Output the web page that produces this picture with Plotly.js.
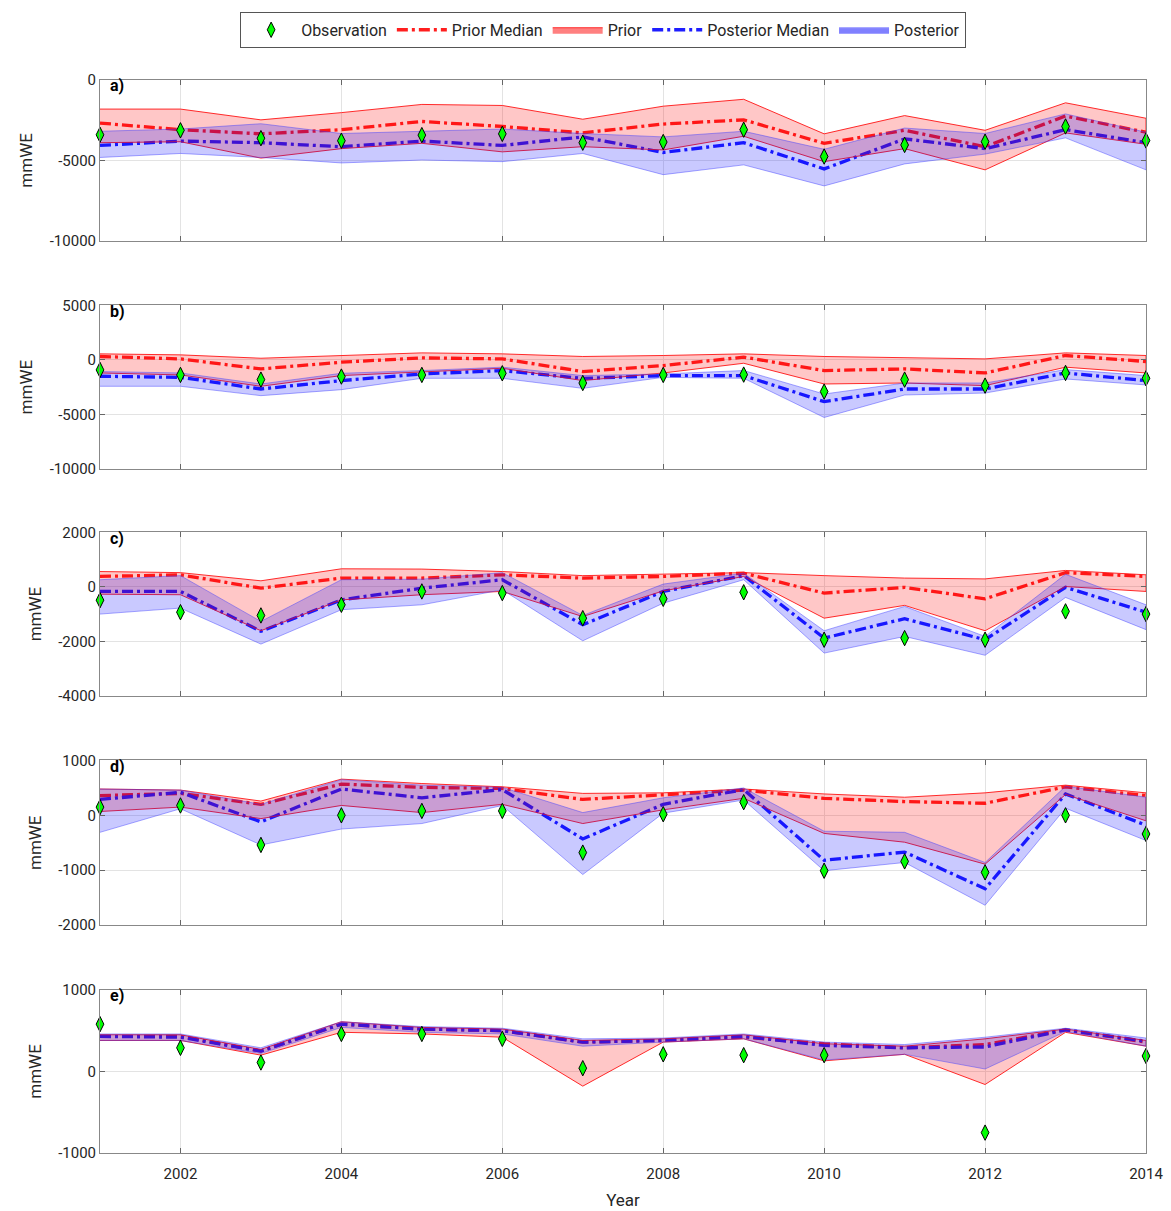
<!DOCTYPE html>
<html>
<head>
<meta charset="utf-8">
<script src="https://cdn.plot.ly/plotly-3.0.1.min.js"></script>
<style>html,body{margin:0;padding:0;background:#fff;}#chart{width:1171px;height:1211px;}</style>
</head>
<body>
<div id="chart"></div>
<script>
// ---------- data ----------
const years = [2001,2002,2003,2004,2005,2006,2007,2008,2009,2010,2011,2012,2013,2014];
const xTickVals = [2002,2004,2006,2008,2010,2012,2014];
const panelLabels = ['a)','b)','c)','d)','e)'];

// panel a
const a_obs      = [-3410,-3130,-3620,-3780,-3430,-3350,-3900,-3860,-3090,-4760,-4040,-3840,-2890,-3760];
const a_priorMed = [-2680,-3090,-3350,-3090,-2580,-2890,-3290,-2740,-2480,-3940,-3130,-4150,-2240,-3250];
const a_priorHi  = [-1810,-1810,-2480,-2030,-1520,-1585,-2440,-1630,-1200,-3350,-2215,-3130,-1420,-2380];
const a_priorLo  = [-3900,-3840,-4860,-4270,-3940,-4470,-4150,-4350,-3500,-5080,-4270,-5590,-3290,-4000];
const a_postMed  = [-4070,-3800,-3900,-4150,-3800,-4070,-3540,-4510,-3900,-5530,-3660,-4270,-3090,-3900];
const a_postHi   = [-3190,-3050,-2720,-3330,-3190,-3050,-3330,-3540,-3190,-4310,-2990,-3330,-2110,-3250];
const a_postLo   = [-4820,-4570,-4820,-5160,-4980,-5080,-4570,-5890,-5280,-6590,-5220,-4610,-3600,-5590];
// panel b
const b_obs      = [-920,-1380,-1810,-1530,-1380,-1230,-2120,-1380,-1350,-2910,-1810,-2360,-1200,-1690];
const b_priorMed = [310,90,-830,-210,180,90,-1070,-520,250,-980,-830,-1200,400,-150];
const b_priorHi  = [550,460,150,400,640,550,310,400,550,310,210,90,640,400];
const b_priorLo  = [-1200,-1380,-2420,-1440,-1130,-770,-1900,-1200,-310,-2210,-2120,-2360,-670,-1200];
const b_postMed  = [-1500,-1600,-2670,-1900,-1290,-980,-1700,-1440,-1440,-3830,-2670,-2670,-1200,-1900];
const b_postHi   = [-1070,-1200,-2210,-1230,-980,-670,-1440,-1290,-980,-3130,-2120,-2120,-890,-1440];
const b_postLo   = [-2420,-2420,-3280,-2730,-1690,-1690,-2610,-1600,-1690,-5280,-3220,-3040,-1750,-2300];
// panel c
const c_obs      = [-490,-930,-1050,-660,-170,-230,-1150,-440,-200,-1940,-1880,-1940,-900,-1000];
const c_priorMed = [380,440,-50,320,320,440,320,380,500,-230,-20,-440,520,380];
const c_priorHi  = [560,520,220,660,650,560,410,460,520,410,320,290,600,440];
const c_priorLo  = [-270,-290,-1610,-480,-290,-170,-1090,-150,380,-1150,-680,-1610,10,-170];
const c_postMed  = [-170,-170,-1630,-480,-50,260,-1390,-170,410,-1880,-1170,-1940,-20,-930];
const c_postHi   = [260,410,-1270,260,280,520,-1050,100,500,-1610,-720,-1820,460,-660];
const c_postLo   = [-1000,-780,-2100,-840,-660,-110,-1980,-600,260,-2430,-1820,-2510,-390,-1570];
// panel d
const d_obs      = [150,180,-540,0,80,80,-680,20,240,-1010,-840,-1040,0,-340];
const d_priorMed = [360,400,200,570,510,490,290,380,460,310,250,220,520,360];
const d_priorHi  = [480,460,260,660,580,520,400,410,480,390,330,410,550,410];
const d_priorLo  = [70,150,-60,180,50,200,-150,100,310,-330,-490,-890,380,-100];
const d_postMed  = [290,420,-120,480,320,470,-430,200,470,-820,-670,-1340,390,-180];
const d_postHi   = [480,460,200,650,550,510,50,320,500,-290,-310,-860,530,330];
const d_postLo   = [-310,120,-540,-250,-150,180,-1080,40,280,-1010,-860,-1640,130,-460];
// panel e
const e_obs      = [580,290,110,460,460,400,40,210,200,200,null,-750,null,190];
const e_priorMed = [430,430,250,580,520,500,360,380,420,340,290,330,510,360];
const e_priorHi  = [450,450,270,610,540,520,380,400,450,340,310,400,520,380];
const e_priorLo  = [380,380,200,480,460,420,-180,360,400,130,210,-160,480,310];
const e_postMed  = [430,420,250,580,520,500,360,380,430,320,290,300,510,370];
const e_postHi   = [460,460,290,610,550,530,400,410,460,360,330,420,530,410];
const e_postLo   = [380,380,220,540,480,460,310,360,400,140,210,30,490,310];

// y-axis ticks per panel
const a_yTicks = [-10000,-5000,0];
const b_yTicks = [-10000,-5000,0,5000];
const c_yTicks = [-4000,-2000,0,2000];
const d_yTicks = [-2000,-1000,0,1000];
const e_yTicks = [-1000,0,1000];

// ---------- build ----------
const panels = [
  {obs:a_obs, pm:a_priorMed, ph:a_priorHi, pl:a_priorLo, qm:a_postMed, qh:a_postHi, ql:a_postLo, ticks:a_yTicks},
  {obs:b_obs, pm:b_priorMed, ph:b_priorHi, pl:b_priorLo, qm:b_postMed, qh:b_postHi, ql:b_postLo, ticks:b_yTicks},
  {obs:c_obs, pm:c_priorMed, ph:c_priorHi, pl:c_priorLo, qm:c_postMed, qh:c_postHi, ql:c_postLo, ticks:c_yTicks},
  {obs:d_obs, pm:d_priorMed, ph:d_priorHi, pl:d_priorLo, qm:d_postMed, qh:d_postHi, ql:d_postLo, ticks:d_yTicks},
  {obs:e_obs, pm:e_priorMed, ph:e_priorHi, pl:e_priorLo, qm:e_postMed, qh:e_postHi, ql:e_postLo, ticks:e_yTicks}
];
const domains = [[0.8502,1.0],[0.6375,0.7900],[0.4260,0.5785],[0.2125,0.3658],[0.0,0.1520]];

const FONT = 'Roboto, "Noto Sans", Arial, sans-serif';
const TXT = '#262626';
const dashMed = '11px,4px,3px,4px';
const bandX = years.concat(years.slice().reverse());
function bandY(lo, hi){ return hi.concat(lo.slice().reverse()); }

const traces = [];
const layout = {
  width:1171, height:1211,
  margin:{l:100, r:25, t:71, b:58},
  paper_bgcolor:'#fff', plot_bgcolor:'#fff',
  font:{family:FONT, size:15, color:TXT},
  showlegend:true,
  legend:{orientation:'h', x:0.481, xanchor:'center', y:1.0635, yanchor:'top',
          bordercolor:'#555', borderwidth:1, bgcolor:'#fff',
          font:{family:FONT, size:16, color:TXT}, traceorder:'normal', itemwidth:50},
  annotations:[]
};

panels.forEach((p, i) => {
  const k = i === 0 ? '' : String(i+1);
  const xa = 'x' + k, ya = 'y' + k;
  const first = i === 0;
  traces.push({x:years, y:p.pm, xaxis:xa, yaxis:ya, type:'scatter', mode:'lines', name:'Prior Median',
    line:{color:'rgb(255,30,30)', width:3.3, dash:dashMed}, showlegend:first, legendrank:2, hoverinfo:'skip'});
  traces.push({x:years, y:p.qm, xaxis:xa, yaxis:ya, type:'scatter', mode:'lines', name:'Posterior Median',
    line:{color:'rgb(30,30,255)', width:3.3, dash:dashMed}, showlegend:first, legendrank:4, hoverinfo:'skip'});
  traces.push({x:bandX, y:bandY(p.pl, p.ph), xaxis:xa, yaxis:ya, type:'scatter', mode:'lines', name:'Prior',
    fill:'toself', fillcolor:'rgba(255,0,0,0.22)',
    line:{color:'rgb(255,20,20)', width:0.9}, showlegend:false, hoverinfo:'skip'});
  traces.push({x:bandX, y:bandY(p.ql, p.qh), xaxis:xa, yaxis:ya, type:'scatter', mode:'lines', name:'Posterior',
    fill:'toself', fillcolor:'rgba(0,0,255,0.21)',
    line:{color:'rgba(60,60,255,0.45)', width:1}, showlegend:false, hoverinfo:'skip'});
  traces.push({x:years, y:p.obs, xaxis:xa, yaxis:ya, type:'scatter', mode:'markers', name:'Observation',
    marker:{symbol:'diamond-tall', size:11, color:'#00ff00', line:{color:'#000', width:1}},
    cliponaxis:false, showlegend:first, legendrank:1, hoverinfo:'skip'});

  const last = i === panels.length - 1;
  layout['xaxis'+k] = {
    anchor:ya, domain:[0,1], range:[2001,2014], tickvals:xTickVals, ticktext:xTickVals.map(String),
    showticklabels:last, ticks:'inside', ticklen:5, tickcolor:'#666', mirror:'ticks',
    showline:true, linecolor:'#888', linewidth:1, showgrid:true, gridcolor:'#e3e3e3', zeroline:false,
    tickfont:{family:FONT, size:15, color:TXT}, ticklabelstandoff:7,
    title: last ? {text:'Year', font:{family:FONT, size:17, color:TXT}, standoff:12} : {text:''}
  };
  if (!first) layout['xaxis'+k].matches = 'x';
  const t = p.ticks;
  layout['yaxis'+k] = {
    anchor:xa, domain:domains[i], range:[t[0], t[t.length-1]], tickvals:t, ticktext:t.map(String),
    ticks:'inside', ticklen:5, tickcolor:'#666', mirror:'ticks',
    showline:true, linecolor:'#888', linewidth:1, showgrid:true, gridcolor:'#e3e3e3', zeroline:false,
    tickfont:{family:FONT, size:15, color:TXT},
    title:{text:'mmWE', font:{family:FONT, size:17, color:TXT}, standoff:12}
  };
  layout.annotations.push({xref:xa+' domain', yref:ya+' domain', x:0.008, y:1.035, xanchor:'left', yanchor:'top',
    text:'<b>'+panelLabels[i]+'</b>', showarrow:false, font:{family:FONT, size:16, color:'#000'}});
});

// legend-only swatches for the uncertainty bands (no data drawn)
traces.push({x:[null], y:[null], type:'scatter', mode:'lines', name:'Prior', fill:'toself',
  fillcolor:'rgba(255,128,128,1)', line:{color:'rgb(255,40,40)', width:1}, legendrank:3, hoverinfo:'skip'});
traces.push({x:[null], y:[null], type:'scatter', mode:'lines', name:'Posterior', fill:'toself',
  fillcolor:'rgba(128,128,255,1)', line:{color:'rgb(150,150,255)', width:1}, legendrank:5, hoverinfo:'skip'});

Plotly.newPlot('chart', traces, layout, {displayModeBar:false, staticPlot:true});
</script>
</body>
</html>
